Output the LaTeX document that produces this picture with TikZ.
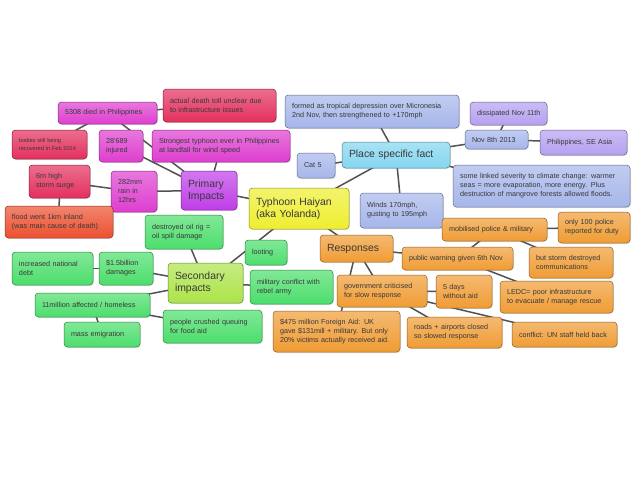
\documentclass[tikz,border=0pt]{standalone}
\usepackage{fontspec}
\setmainfont{Liberation Sans}
\usetikzlibrary{shadows}
\pgfdeclarelayer{back}
\pgfdeclarelayer{bg}
\pgfsetlayers{back,bg,main}
\definecolor{cpink}{HTML}{DE3ECF}
\definecolor{cred}{HTML}{E3305E}
\definecolor{cviolet}{HTML}{BF3EE8}
\definecolor{cflood}{HTML}{EC5030}
\definecolor{cyellow}{HTML}{EEEE30}
\definecolor{cblue}{HTML}{A6B6EA}
\definecolor{ccyan}{HTML}{84D6F0}
\definecolor{clav}{HTML}{B5A0F0}
\definecolor{corange}{HTML}{F09C34}
\definecolor{cgreen}{HTML}{4CDE6C}
\definecolor{cygreen}{HTML}{ACE44A}
\tikzset{
  box/.style={rounded corners=3.5pt, draw=#1!60!black, line width=0.5pt,
    top color=#1!70!white, bottom color=#1, text=black!78, align=left,
    inner xsep=7pt, inner ysep=0pt, anchor=center,
    drop shadow={opacity=0.2, shadow xshift=1pt, shadow yshift=-1pt}},
  wh/.code 2 args={\pgfmathsetlengthmacro\boxtw{#1pt-14pt}%
    \tikzset{text width/.expanded={\boxtw}, minimum height=#2pt}},
  sm/.style={font=\fontsize{7.2}{9}\selectfont},
  tiny/.style={font=\fontsize{5.6}{7.5}\selectfont},
  big/.style={font=\fontsize{10.4}{12}\selectfont},
  link/.style={draw=black!68, line width=1.5pt},
}
\begin{document}
\begin{tikzpicture}[x=1pt,y=-1pt]
\begin{pgfonlayer}{back}
\fill[white] (0,0) rectangle (638,479);
\end{pgfonlayer}
\useasboundingbox (0,0) rectangle (638,479);
% primary impacts
\node[box=cpink, sm, wh={99}{22}] (died) at (107.5,113) {5308 died in Philippines};
\node[box=cred, sm, wh={113}{33}] (toll) at (219.5,105.5) {actual death toll unclear due\\to infrastructure issues};
\node[box=cred, tiny, wh={75}{29}] (bodies) at (49.5,144.5) {bodies still being\\recovered in Feb 2014};
\node[box=cpink, sm, wh={44}{32}] (injured) at (121,146) {28'689\\injured};
\node[box=cpink, sm, wh={138}{32}] (strongest) at (221,146) {Strongest typhoon ever in Philippines\\at landfall for wind speed};
\node[box=cred, sm, wh={61}{33}] (surge) at (59.5,181.5) {6m high\\storm surge};
\node[box=cpink, sm, wh={46}{41}] (rain) at (134,191.5) {282mm\\rain in\\12hrs};
\node[box=cviolet, big, wh={56}{39}] (primary) at (209,190.5) {Primary\\Impacts};
\node[box=cyellow, big, wh={100}{41}] (typhoon) at (299,208.5) {Typhoon Haiyan\\(aka Yolanda)};
\node[box=cflood, sm, wh={108}{32}] (flood) at (59,222) {flood went 1km inland\\(was main cause of death)};
% place specific
\node[box=cblue, sm, wh={174}{33}] (formed) at (372,111.5) {formed as tropical depression over Micronesia\\2nd Nov, then strengthened to +170mph};
\node[box=clav, sm, wh={77}{23}] (dissipated) at (508.5,113.5) {\mbox{dissipated Nov 11th}};
\node[box=cblue, sm, wh={63}{19}] (nov8) at (496.5,139.5) {Nov 8th 2013};
\node[box=clav, sm, wh={87}{25}] (philippines) at (583.5,142.5) {Philippines, SE Asia};
\node[box=ccyan, big, wh={108}{26}] (place) at (396,155) {Place specific fact};
\node[box=cblue, sm, wh={38}{25}] (cat5) at (316,165.5) {Cat 5};
\node[box=cblue, sm, wh={177}{42}] (linked) at (541.5,186) {some linked severity to climate change: warmer\\seas = more evaporation, more energy. Plus\\destruction of mangrove forests allowed floods.};
\node[box=cblue, sm, wh={83}{35}] (winds) at (401.5,210.5) {Winds 170mph,\\gusting to 195mph};
% responses
\node[box=corange, sm, wh={105}{23}] (mobilised) at (494.5,229.5) {mobilised police \& military};
\node[box=corange, sm, wh={72}{31}] (police) at (594,227.5) {only 100 police\\reported for duty};
\node[box=corange, big, wh={73}{27}] (responses) at (356.5,248.5) {Responses};
\node[box=corange, sm, wh={111}{23}] (warning) at (457.5,258.5) {public warning given 6th Nov};
\node[box=corange, sm, wh={84}{31}] (storm) at (571,262.5) {but storm destroyed\\communications};
\node[box=corange, sm, wh={90}{32}] (govt) at (382,291) {government criticised\\for slow response};
\node[box=corange, sm, wh={56}{33}] (days) at (464,291.5) {5 days\\without aid};
\node[box=corange, sm, wh={113}{32}] (ledc) at (556.5,297) {LEDC= poor infrastructure\\to evacuate / manage rescue};
\node[box=corange, sm, wh={127}{41}] (aid) at (336.5,331.5) {\$475 million Foreign Aid: UK\\gave \$131mill + military. But only\\20\% victims actually received aid.};
\node[box=corange, sm, wh={95}{31}] (roads) at (454.5,332.5) {roads + airports closed\\so slowed response};
\node[box=corange, sm, wh={105}{25}] (unstaff) at (564.5,334.5) {conflict: UN staff held back};
% secondary
\node[box=cgreen, sm, wh={78}{34}] (oilrig) at (184,232) {destroyed oil rig =\\oil spill damage};
\node[box=cgreen, sm, wh={42}{25}] (looting) at (266,252.5) {looting};
\node[box=cgreen, sm, wh={81}{33}] (debt) at (52.5,268.5) {increased national\\debt};
\node[box=cgreen, sm, wh={54}{33}] (damages) at (126,268.5) {\$1.5billion\\damages};
\node[box=cygreen, big, wh={75}{40}] (secondary) at (205.5,283) {Secondary\\impacts};
\node[box=cgreen, sm, wh={83}{34}] (military) at (291.5,287) {military conflict with\\rebel army};
\node[box=cgreen, sm, wh={115}{24}] (homeless) at (92.5,305) {11million affected / homeless};
\node[box=cgreen, sm, wh={76}{25}] (emigration) at (102,334.5) {mass emigration};
\node[box=cgreen, sm, wh={99}{33}] (crushed) at (212.5,326.5) {people crushed queuing\\for food aid};
\begin{pgfonlayer}{bg}
\foreach \a/\b in {died/toll, died/bodies, died/primary, injured/primary, strongest/primary,
  rain/primary, rain/surge, surge/flood, primary/typhoon, typhoon/place, typhoon/responses,
  typhoon/secondary, place/formed, place/cat5, place/nov8, nov8/dissipated, nov8/philippines,
  place/linked, place/winds, responses/warning, warning/mobilised, mobilised/police,
  mobilised/storm, warning/ledc, responses/govt, responses/aid, govt/days, govt/roads,
  govt/unstaff, secondary/oilrig, secondary/military, secondary/damages, damages/debt,
  secondary/homeless, homeless/emigration, homeless/crushed}
  \draw[link] (\a.center) -- (\b.center);
\end{pgfonlayer}
\end{tikzpicture}
\end{document}
